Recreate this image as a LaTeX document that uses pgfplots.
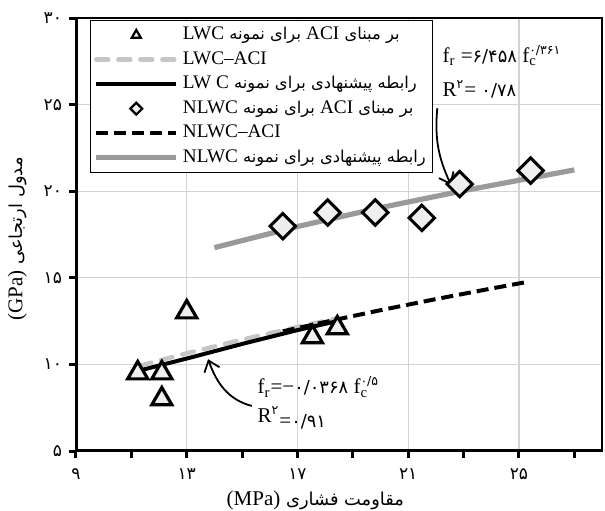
\documentclass[border=0pt]{standalone}
\usepackage{fontspec}
\setmainfont{Liberation Serif}
\newfontfamily\fa[Script=Arabic,Scale=0.85]{DejaVu Sans}
\TeXXeTstate=1
\usepackage{pgfplots}
\pgfplotsset{compat=1.18}
\usetikzlibrary{arrows.meta}

\definecolor{lgray}{HTML}{C6C6C6}
\definecolor{mgray}{HTML}{9A9A9A}
\definecolor{mfill}{HTML}{EEEEEE}
\newcommand\lat[1]{{\rmfamily #1}}

\pgfplotsset{
  lineleg/.style={legend image code/.code={\draw[##1] (0pt,0pt) -- (40pt,0pt);}},
  markleg/.style={legend image code/.code={\draw[##1, mark size=2.6pt, line width=1.1pt] plot coordinates {(20pt,0pt)};}},
}

\begin{document}
\begin{tikzpicture}
\begin{axis}[
  scale only axis, width=263pt, height=216.5pt,
  xmin=9, xmax=28, ymin=5, ymax=30,
  xtick={9,13,17,21,25}, xticklabels={۹,۱۳,۱۷,۲۱,۲۵},
  minor xtick={11,15,19,23,27},
  ytick={5,10,15,20,25,30}, yticklabels={۵,۱۰,۱۵,۲۰,۲۵,۳۰},
  xtick pos=bottom, ytick pos=left,
  tick align=outside, major tick length=3.5pt, minor tick length=3.5pt,
  every tick/.style={black, line width=1.5pt},
  grid=major, major grid style={gray!35, line width=0.6pt},
  axis line style={line width=0.6pt},
  ticklabel style={font=\fontsize{10}{11}\selectfont\fa},
  xticklabel style={yshift=-2pt},
  xlabel={\fontsize{10.5}{12}\selectfont\fa\beginR مقاومت فشاری \lat{(MPa)}\endR},
  xlabel style={at={(axis description cs:0.455,-0.075)}, anchor=north},
  ylabel={\fontsize{10.5}{12}\selectfont\fa\beginR مدول ارتجاعی \lat{(GPa)}\endR},
  ylabel style={at={(axis description cs:-0.080,0.49)}, anchor=south},
  legend cell align=left,
  legend style={at={(axis description cs:0.027,0.996)}, anchor=north west,
    draw=black, line width=0.5pt, fill=white, inner sep=1.5pt, row sep=0.4pt,
    font=\fontsize{9.6}{11}\selectfont},
]
% legend in the chart's own order
\addlegendimage{markleg, only marks, mark=triangle*, mark options={fill=mfill, draw=black}}
\addlegendentry{\fa\beginR بر مبنای \lat{ACI} برای نمونه \lat{LWC}\endR}
\addlegendimage{lineleg, lgray, line width=2.2pt, line cap=round, dash pattern=on 6pt off 5pt}
\addlegendentry{\lat{LWC–ACI}}
\addlegendimage{lineleg, black, line width=2pt}
\addlegendentry{\fa\beginR رابطه پیشنهادی برای نمونه \beginL\lat{LW C}\endL\endR}
\addlegendimage{markleg, only marks, mark=square*, mark options={fill=mfill, draw=black, rotate=45, scale=0.8}}
\addlegendentry{\fa\beginR بر مبنای \lat{ACI} برای نمونه \lat{NLWC}\endR}
\addlegendimage{lineleg, black, line width=2pt, dash pattern=on 6pt off 3pt}
\addlegendentry{\lat{NLWC–ACI}}
\addlegendimage{lineleg, mgray, line width=2.6pt}
\addlegendentry{\fa\beginR رابطه پیشنهادی برای نمونه \lat{NLWC}\endR}

% lines
\addplot[forget plot, lgray, line width=2.2pt, line cap=round, dash pattern=on 6pt off 5pt]
  coordinates {(11.3,9.92)(13,10.64)(15,11.43)(17,12.16)(18.44,12.67)};
\addplot[forget plot, black, line width=2pt]
  coordinates {(11.23,9.62)(13.1,10.38)(15,11.18)(17,11.98)(18.44,12.5)};
\addplot[forget plot, black, line width=2pt, dash pattern=on 6pt off 3pt]
  coordinates {(16.47,11.91)(18,12.45)(20,13.13)(22,13.77)(24,14.38)(25.33,14.77)};
\addplot[forget plot, mgray, line width=2.6pt]
  coordinates {(14,16.74)(17,17.96)(20,19.05)(23,20.03)(27,21.23)};

% points
\addplot[forget plot, only marks, mark=triangle*, mark size=5.8pt,
  mark options={fill=mfill, draw=black, line width=1.6pt}]
  coordinates {(11.23,9.50)(12.10,9.50)(12.10,8.00)(13.00,13.02)(17.54,11.58)(18.44,12.10)};
\addplot[forget plot, only marks, mark=square*, mark size=4.5pt,
  mark options={fill=mfill, draw=black, line width=1.5pt, rotate=45}]
  coordinates {(16.47,17.98)(18.09,18.77)(19.81,18.77)(21.49,18.46)(22.86,20.41)(25.42,21.19)};

% heavy left and bottom axis lines
\draw[line width=2pt] (rel axis cs:0,1) -- (rel axis cs:0,0) -- (rel axis cs:1,0);

% fit annotations
\node[anchor=west, inner sep=0pt, font=\fontsize{10.5}{12}\selectfont] at (axis cs:22.23,27.85)
  {f\textsubscript{r} ={\fa ۶/۴۵۸} f\rlap{\textsubscript{c}}\textsuperscript{\fa ۰/۳۶۱}};
\node[anchor=west, inner sep=0pt, font=\fontsize{10.5}{12}\selectfont] at (axis cs:22.23,25.89)
  {R\textsuperscript{\fa ۲}= {\fa ۰/۷۸}};
\draw[line width=0.9pt, -{Straight Barb[length=5pt,width=8pt]}]
  (axis cs:22.05,24.79) to[out=-95,in=115] (axis cs:22.55,20.35);

\node[anchor=west, inner sep=0pt, font=\fontsize{10.5}{12}\selectfont] at (axis cs:15.55,8.69)
  {f\textsubscript{r}=\lat{−}{\fa ۰/۰۳۶۸} f\rlap{\textsubscript{c}}\textsuperscript{\fa ۰/۵}};
\node[anchor=west, inner sep=0pt, font=\fontsize{10.5}{12}\selectfont] at (axis cs:15.55,6.90)
  {R\textsuperscript{\fa ۲}\raisebox{-2.5pt}{={\fa ۰/۹۱}}};
\draw[line width=0.9pt, -{Straight Barb[length=5pt,width=8pt]}]
  (axis cs:15.35,7.6) to[out=165,in=-70] (axis cs:13.77,10.3);
\end{axis}
\pgfresetboundingbox
\path ([shift={(-38pt,-29.5pt)}]current axis.south west) rectangle ([shift={(1.5pt,9pt)}]current axis.north east);
\end{tikzpicture}
\end{document}
